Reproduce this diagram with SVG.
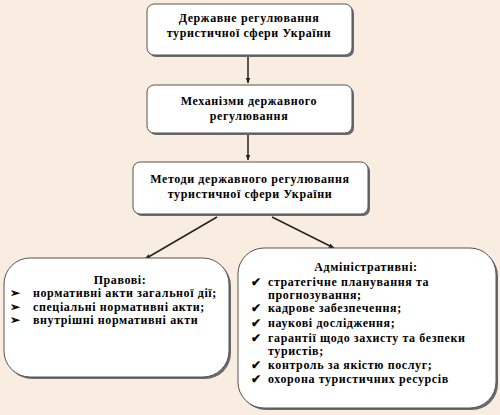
<svg xmlns="http://www.w3.org/2000/svg" width="500" height="415" viewBox="0 0 500 415">
<defs>
<style>
.box{fill:#fff;stroke:#555;stroke-width:1}
.sh{fill:#6a6a6a}
.t{font-family:"Liberation Serif","Times New Roman",serif;font-weight:bold;font-size:12px;letter-spacing:0.6px;fill:#000}
.c{text-anchor:middle}
.ln{stroke:#222;stroke-width:1.5;fill:none}
</style>
<marker id="ah" viewBox="0 0 10 10" refX="9" refY="5" markerWidth="6" markerHeight="6" orient="auto" markerUnits="userSpaceOnUse">
<path d="M0,1 L10,5 L0,9 z" fill="#222"/>
</marker>
</defs>
<rect width="500" height="415" fill="#F9EDE1"/>
<g id="connectors">
<line class="ln" x1="248" y1="57" x2="248" y2="83" marker-end="url(#ah)"/>
<line class="ln" x1="248" y1="134" x2="248" y2="160" marker-end="url(#ah)"/>
<line class="ln" x1="217" y1="217" x2="145" y2="259" marker-end="url(#ah)"/>
<line class="ln" x1="272" y1="217" x2="334" y2="248" marker-end="url(#ah)"/>
</g>
<g id="n1">
<rect class="sh" x="149" y="6" width="205" height="51" rx="7"/>
<rect class="box" x="147" y="4" width="205" height="51" rx="7"/>
<text class="t c" x="249" y="22">Державне регулювання</text>
<text class="t c" x="249" y="37">туристичної сфери України</text>
</g>
<g id="n2">
<rect class="sh" x="149" y="87" width="205" height="48" rx="7"/>
<rect class="box" x="147" y="85" width="205" height="48" rx="7"/>
<text class="t c" x="249" y="105">Механізми державного</text>
<text class="t c" x="249" y="120">регулювання</text>
</g>
<g id="n3">
<rect class="sh" x="135" y="164" width="235" height="52" rx="7"/>
<rect class="box" x="133" y="162" width="235" height="52" rx="7"/>
<text class="t c" x="250" y="183">Методи державного регулювання</text>
<text class="t c" x="250" y="198">туристичної сфери України</text>
</g>
<g id="n4">
<rect class="sh" x="6" y="260" width="225" height="119" rx="26"/>
<rect class="box" x="4" y="258" width="225" height="119" rx="26"/>
<text class="t c" x="120" y="284">Правові:</text>
<text class="t" x="10" y="297">➢</text>
<text class="t" x="33" y="297">нормативні акти загальної дії;</text>
<text class="t" x="10" y="311">➢</text>
<text class="t" x="33" y="311">спеціальні нормативні акти;</text>
<text class="t" x="10" y="324">➢</text>
<text class="t" x="33" y="324">внутрішні нормативні акти</text>
</g>
<g id="n5">
<rect class="sh" x="240" y="250" width="258" height="160" rx="26"/>
<rect class="box" x="238" y="248" width="258" height="160" rx="26"/>
<text class="t c" x="366" y="271">Адміністративні:</text>
<text class="t" x="251" y="286">✔</text>
<text class="t" x="268" y="286">стратегічне планування та</text>
<text class="t" x="268" y="299">прогнозування;</text>
<text class="t" x="251" y="312">✔</text>
<text class="t" x="268" y="312">кадрове забезпечення;</text>
<text class="t" x="251" y="327">✔</text>
<text class="t" x="268" y="327">наукові дослідження;</text>
<text class="t" x="251" y="342">✔</text>
<text class="t" x="268" y="342">гарантії щодо захисту та безпеки</text>
<text class="t" x="268" y="355">туристів;</text>
<text class="t" x="251" y="369">✔</text>
<text class="t" x="268" y="369">контроль за якістю послуг;</text>
<text class="t" x="251" y="383">✔</text>
<text class="t" x="268" y="383">охорона туристичних ресурсів</text>
</g>
</svg>
